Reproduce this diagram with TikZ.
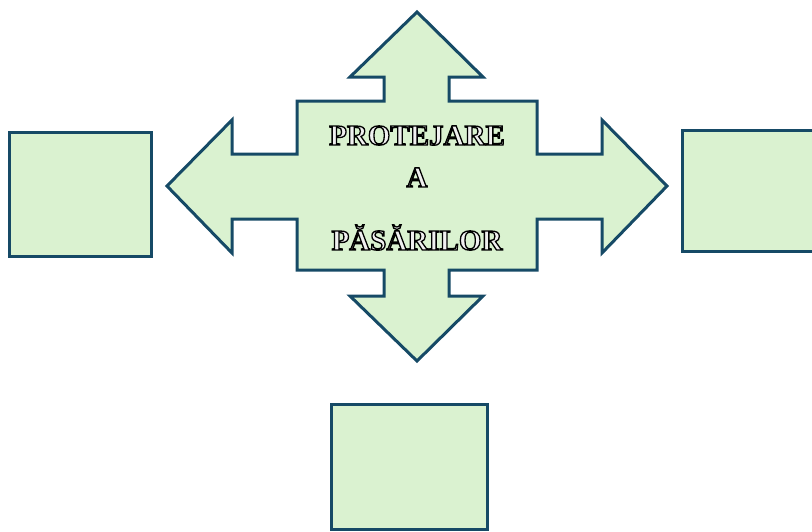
\documentclass[tikz,border=0pt]{standalone}
\usepackage{fontspec}
\setmainfont{Liberation Serif}
\definecolor{edgeblue}{RGB}{22,74,102}
\definecolor{leafgreen}{RGB}{218,242,208}
\tikzset{
  shapebox/.style={draw=edgeblue, fill=leafgreen, line width=3pt, line join=miter},
  label/.style={font=\bfseries\fontsize{29}{29}\selectfont, anchor=base, inner sep=0pt},
}
\newcommand{\hollow}[1]{{\color{white!94!black}\special{pdf:literal direct 2 Tr 1.3 w 0 G}#1\special{pdf:literal direct 0 Tr}}}
\begin{document}
\begin{tikzpicture}[x=1pt,y=-1pt]
\useasboundingbox (0,0) rectangle (812,531);
\clip (0,0) rectangle (812,531);
% four-way arrow
\draw[shapebox] (417,12) -- (483,77) -- (449,77) -- (449,101) -- (537,101) -- (537,154)
  -- (602,154) -- (602,120) -- (667,186) -- (602,253) -- (602,219) -- (537,219)
  -- (537,270) -- (449,270) -- (449,296) -- (483,296) -- (417,361) -- (350,296)
  -- (384,296) -- (384,270) -- (297,270) -- (297,219) -- (232,219) -- (232,253)
  -- (167,186) -- (232,120) -- (232,154) -- (297,154) -- (297,101) -- (384,101)
  -- (384,77) -- (350,77) -- cycle;
% boxes
\draw[shapebox] (9,132) rectangle (151,256);
\draw[shapebox] (682,130) rectangle (840,251);
\draw[shapebox] (331,404) rectangle (487,529);
% text
\node[label] (t1) at (417,145) {\hollow{PROTEJARE}};
\node[label] (t2) at (417,187) {\hollow{A}};
\node[label] (t3) at (417,250) {\hollow{PĂSĂRILOR}};
\end{tikzpicture}
\end{document}
